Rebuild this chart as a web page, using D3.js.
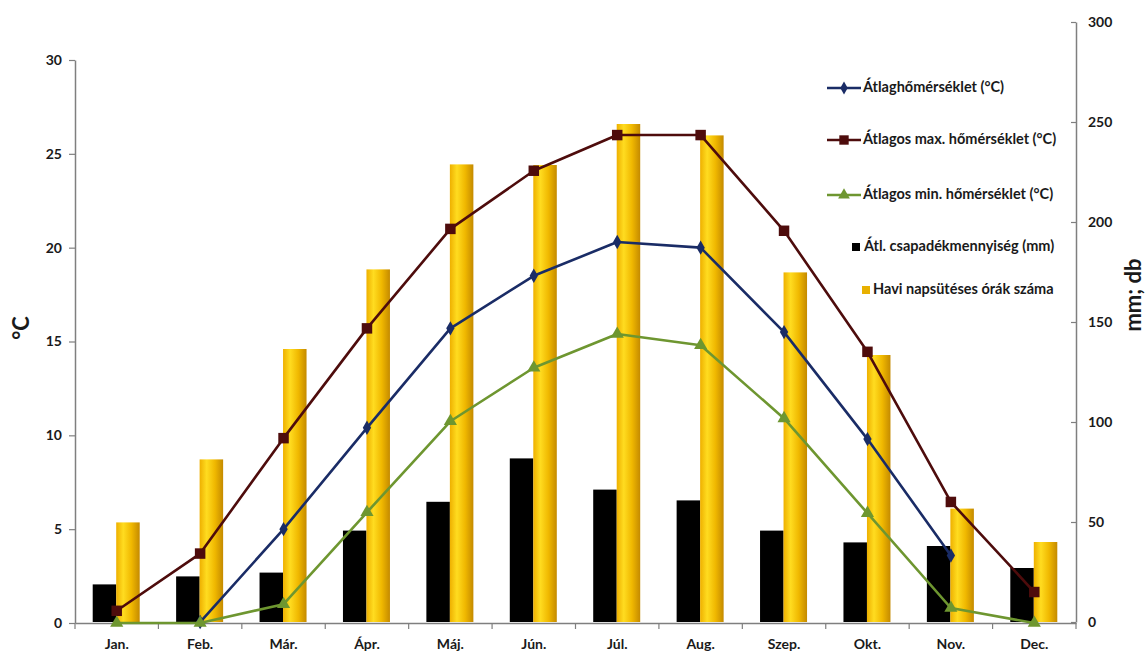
<!DOCTYPE html>
<html>
<head>
<meta charset="utf-8">
<script src="https://cdn.jsdelivr.net/npm/d3@7"></script>
<style>
  html, body { margin: 0; padding: 0; background: #fff; }
  svg { display: block; font-family: Lato, "Open Sans", sans-serif; }
</style>
</head>
<body>
<svg id="chart" width="1148" height="655"></svg>
<script>
const months = ["Jan.", "Feb.", "Már.", "Ápr.", "Máj.", "Jún.", "Júl.", "Aug.", "Szep.", "Okt.", "Nov.", "Dec."];
const avgTemp = [null, 0.05, 5.0, 10.4, 15.7, 18.5, 20.3, 20.0, 15.5, 9.8, 3.6, null];
const maxTemp = [0.65, 3.7, 9.85, 15.7, 21.0, 24.1, 26.0, 26.0, 20.9, 14.45, 6.45, 1.65];
const minTemp = [0, 0, 1.0, 5.9, 10.75, 13.6, 15.4, 14.8, 10.9, 5.85, 0.8, 0];
const precip = [18.8, 22.8, 24.7, 45.7, 60.1, 81.8, 66.2, 60.8, 45.7, 39.8, 38.0, 27.0];
const sunshine = [49.8, 81.3, 136.5, 176.3, 228.8, 228.5, 249.0, 243.3, 174.8, 133.5, 56.7, 40.0];
const leftTicks = [0, 5, 10, 15, 20, 25, 30];
const rightTicks = [0, 50, 100, 150, 200, 250, 300];
const legendLabels = ["Átlaghőmérséklet (°C)", "Átlagos max. hőmérséklet (°C)", "Átlagos min. hőmérséklet (°C)", "Átl. csapadékmennyiség (mm)", "Havi napsütéses órák száma"];
const leftTitle = "°C";
const rightTitle = "mm; db";

const svg = d3.select("#chart");
const C = { blue: "#1a2c66", red: "#4e0c0c", green: "#6e9630", black: "#000000", axis: "#7f7f7f", text: "#1a1a1a" };

const defs = svg.append("defs");
const g = defs.append("linearGradient").attr("id", "gold").attr("x1", "0").attr("x2", "1").attr("y1", "0").attr("y2", "0");
[[0, "#eeb000"], [0.3, "#ffdc20"], [0.65, "#f0b800"], [1, "#c48a00"]].forEach(([o, c]) =>
  g.append("stop").attr("offset", o).attr("stop-color", c));

const x0 = d3.scaleBand().domain(months).range([75, 1076]).paddingInner(0).paddingOuter(0);
const bw = x0.bandwidth();
const x1 = d3.scaleBand().domain(["precip", "sun"]).range([bw / 2 - 24, bw / 2 + 23]);
const yL = d3.scaleLinear().domain([0, 30]).range([623, 60]);
const yR = d3.scaleLinear().domain([0, 300]).range([622, 22]);
const cx = m => x0(m) + bw / 2;

// Bars
const barG = svg.append("g");
barG.selectAll("rect.p").data(months).join("rect")
  .attr("x", m => x0(m) + x1("precip")).attr("width", x1.bandwidth())
  .attr("y", (m, i) => yR(precip[i])).attr("height", (m, i) => yR(0) - yR(precip[i]))
  .attr("fill", C.black);
barG.selectAll("rect.s").data(months).join("rect")
  .attr("x", m => x0(m) + x1("sun")).attr("width", x1.bandwidth())
  .attr("y", (m, i) => yR(sunshine[i])).attr("height", (m, i) => yR(0) - yR(sunshine[i]))
  .attr("fill", "url(#gold)");

// Axes
const axL = svg.append("g").attr("transform", "translate(75,0)")
  .call(d3.axisLeft(yL).tickValues(leftTicks).tickSize(6).tickPadding(7).tickSizeOuter(0));
const axR = svg.append("g").attr("transform", "translate(1076,0)")
  .call(d3.axisRight(yR).tickValues(rightTicks).tickSize(0).tickPadding(12).tickSizeOuter(0));
axR.selectAll(".tick").append("line").attr("x1", -5).attr("x2", 0).attr("stroke", C.axis);
const axB = svg.append("g").attr("transform", "translate(0,623)")
  .call(d3.axisBottom(x0).tickSize(0).tickPadding(16).tickSizeOuter(0));
const bounds = months.map(m => x0(m)).concat([1076]);
axB.selectAll("line.b").data(bounds).join("line").attr("class", "b")
  .attr("x1", d => d).attr("x2", d => d).attr("y1", 0).attr("y2", 6).attr("stroke", C.axis).attr("stroke-width", 1.2);
[axL, axR, axB].forEach(a => {
  a.select(".domain").attr("stroke", C.axis).attr("stroke-width", 1.5);
  a.selectAll(".tick line").attr("stroke", C.axis).attr("stroke-width", 1.2);
  a.selectAll("text").attr("fill", C.text).attr("font-weight", "bold").attr("font-size", 14).attr("font-family", "Lato, sans-serif");
});

// Axis titles
svg.append("text").attr("transform", "translate(29,328) rotate(-90)").attr("text-anchor", "middle")
  .attr("font-size", 22).attr("font-weight", "bold").attr("fill", C.text).text(leftTitle);
svg.append("text").attr("transform", "translate(1141,295) rotate(-90)").attr("text-anchor", "middle")
  .attr("font-size", 22).attr("font-weight", "bold").attr("fill", C.text).text(rightTitle);

// Lines
const series = [
  { vals: avgTemp, color: C.blue, shape: d3.symbolDiamond, size: 60 },
  { vals: maxTemp, color: C.red, shape: d3.symbolSquare, size: 110 },
  { vals: minTemp, color: C.green, shape: d3.symbolTriangle, size: 75 }
];
const line = d3.line().defined(d => d.v != null).x(d => cx(d.m)).y(d => yL(d.v)).curve(d3.curveLinear);
series.forEach(s => {
  const pts = months.map((m, i) => ({ m, v: s.vals[i] }));
  svg.append("path").datum(pts).attr("d", line).attr("fill", "none")
    .attr("stroke", s.color).attr("stroke-width", 2.6).attr("stroke-linejoin", "round");
  svg.append("g").selectAll("path").data(pts.filter(d => d.v != null)).join("path")
    .attr("transform", d => `translate(${cx(d.m)},${yL(d.v)})`)
    .attr("d", d3.symbol(s.shape, s.size)).attr("fill", s.color);
});

// Legend
const legY = [88, 140, 195, 247, 290];
const leg = svg.append("g").attr("font-family", "Lato, sans-serif").attr("font-weight", "bold").attr("font-size", 14.5).attr("fill", C.text);
series.forEach((s, i) => {
  leg.append("line").attr("x1", 827).attr("x2", 861).attr("y1", legY[i]).attr("y2", legY[i]).attr("stroke", s.color).attr("stroke-width", 2.6);
  leg.append("path").attr("transform", `translate(844,${legY[i]})`).attr("d", d3.symbol(s.shape, s.size * 0.8)).attr("fill", s.color);
  leg.append("text").attr("x", 863).attr("y", legY[i]).attr("dominant-baseline", "middle").text(legendLabels[i]);
});
leg.append("rect").attr("x", 852).attr("y", legY[3] - 4).attr("width", 8).attr("height", 8).attr("fill", C.black);
leg.append("text").attr("x", 864).attr("y", legY[3]).attr("dominant-baseline", "middle").text(legendLabels[3]);
leg.append("rect").attr("x", 862).attr("y", legY[4] - 4).attr("width", 8).attr("height", 8).attr("fill", "#e8b000");
leg.append("text").attr("x", 873).attr("y", legY[4]).attr("dominant-baseline", "middle").text(legendLabels[4]);
</script>
</body>
</html>
